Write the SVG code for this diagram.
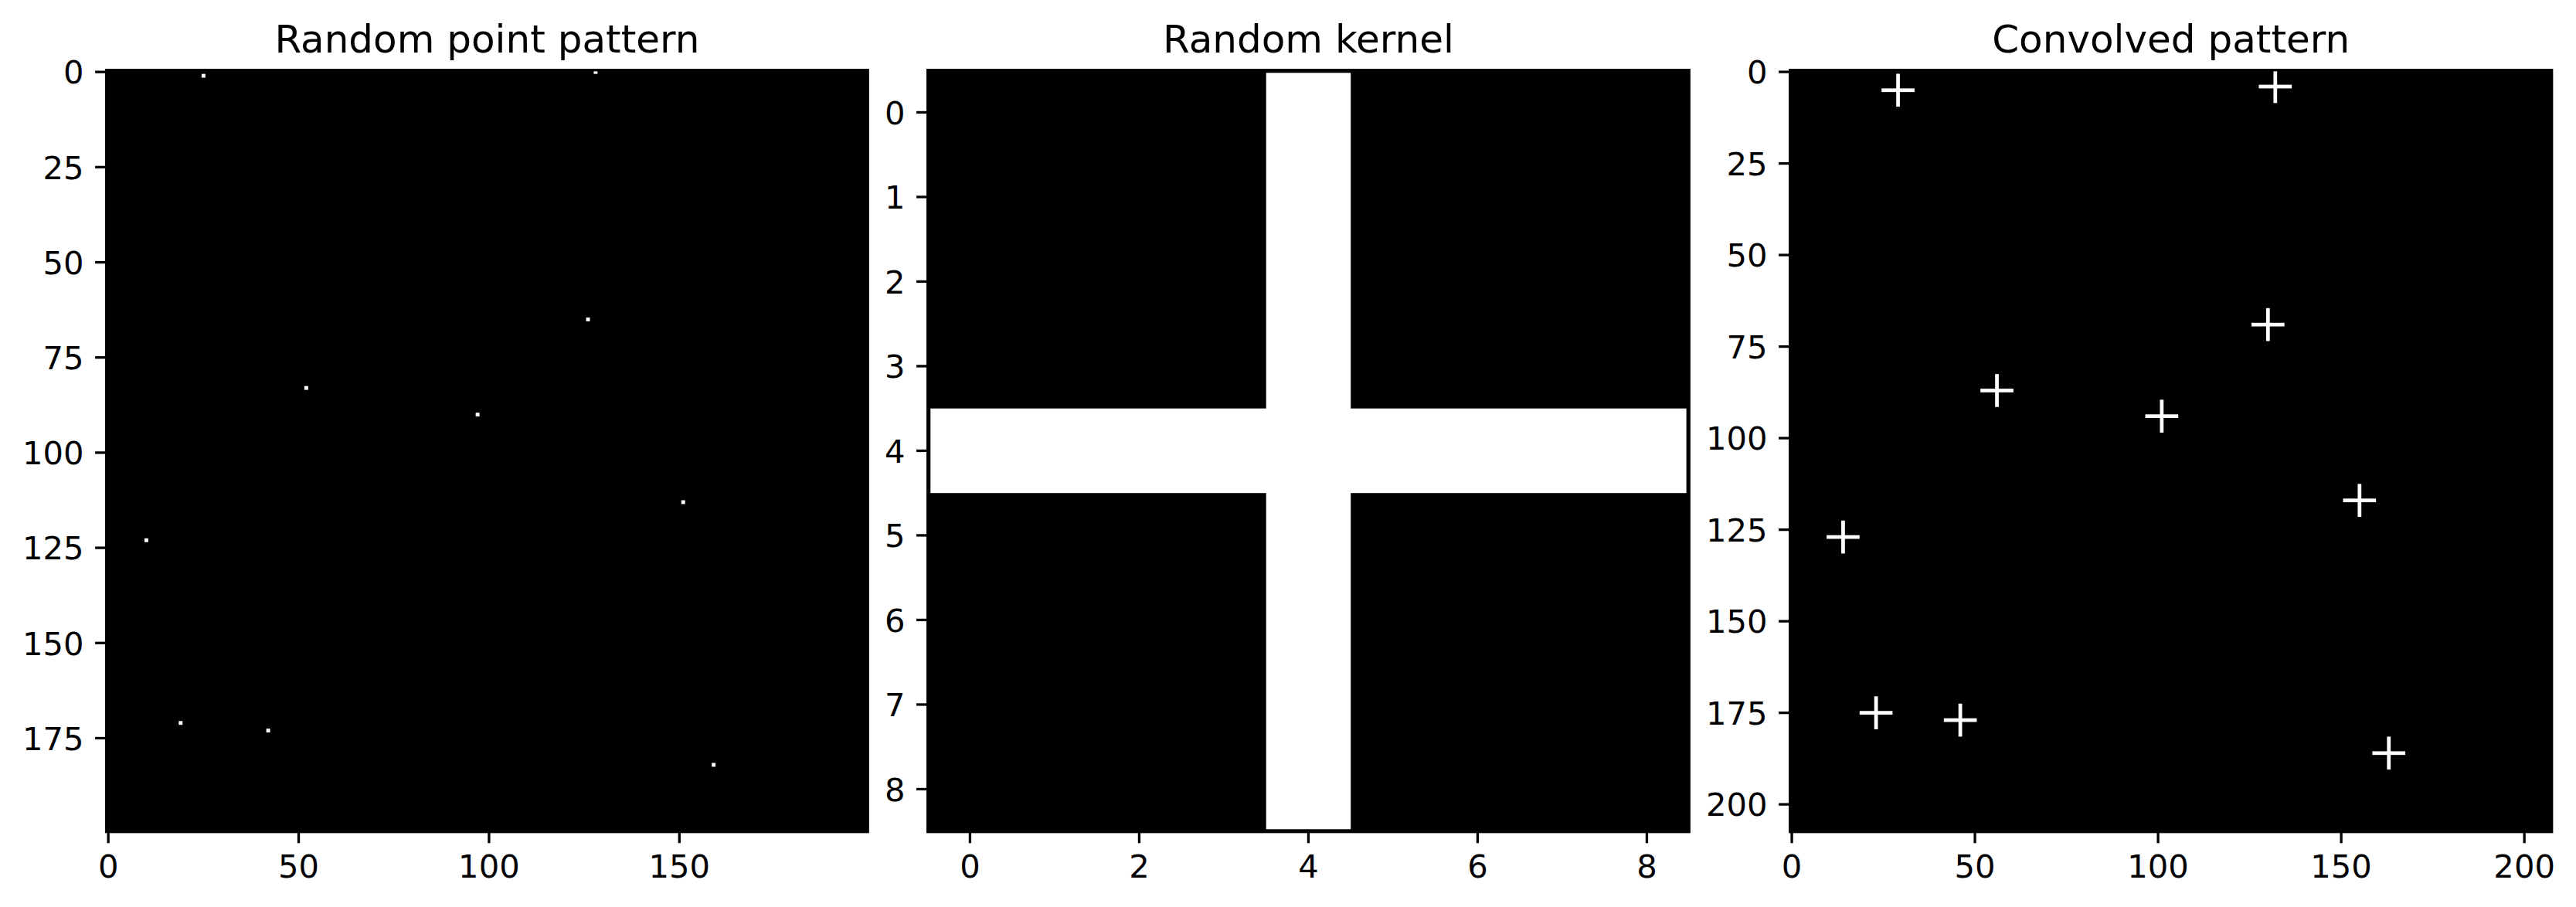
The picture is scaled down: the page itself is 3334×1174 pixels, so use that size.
<svg xmlns="http://www.w3.org/2000/svg" width="3334" height="1174" viewBox="0 0 3334 1174">
<style>
text{font-family:"DejaVu Sans","Liberation Sans",sans-serif;fill:#000}
.tl{font-size:41.7px}
.yl{text-anchor:end}
.xl{text-anchor:middle}
.title{font-size:50px;text-anchor:middle}
.tick{stroke:#000;stroke-width:3.3}
.spine{fill:none;stroke:#000;stroke-width:3.3}
.px{fill:#fff}
</style>
<defs>
<g id="cross"><rect x="-4" y="0" width="9" height="1" class="px"/><rect x="0" y="-4" width="1" height="9" class="px"/></g>
</defs>
<rect width="3334" height="1174" fill="#fff"/>

<g id="panel1">
<text class="title" x="630.4" y="68.3">Random point pattern</text>
<rect x="137.7" y="90.7" width="985.5" height="986" fill="#000"/>
<g transform="translate(137.7,90.7) scale(4.9275)">
<rect class="px" x="25" y="1" width="1" height="1"/>
<rect class="px" x="128" y="0" width="1" height="1"/>
<rect class="px" x="126" y="65" width="1" height="1"/>
<rect class="px" x="52" y="83" width="1" height="1"/>
<rect class="px" x="97" y="90" width="1" height="1"/>
<rect class="px" x="151" y="113" width="1" height="1"/>
<rect class="px" x="10" y="123" width="1" height="1"/>
<rect class="px" x="19" y="171" width="1" height="1"/>
<rect class="px" x="42" y="173" width="1" height="1"/>
<rect class="px" x="159" y="182" width="1" height="1"/>
</g>
<rect class="spine" x="137.7" y="90.7" width="985.5" height="986"/>
<g class="tick">
<line x1="123.1" y1="93.16" x2="137.7" y2="93.16"/>
<line x1="123.1" y1="216.35" x2="137.7" y2="216.35"/>
<line x1="123.1" y1="339.54" x2="137.7" y2="339.54"/>
<line x1="123.1" y1="462.73" x2="137.7" y2="462.73"/>
<line x1="123.1" y1="585.91" x2="137.7" y2="585.91"/>
<line x1="123.1" y1="709.1" x2="137.7" y2="709.1"/>
<line x1="123.1" y1="832.29" x2="137.7" y2="832.29"/>
<line x1="123.1" y1="955.48" x2="137.7" y2="955.48"/>
<line x1="140.16" y1="1076.7" x2="140.16" y2="1091.3"/>
<line x1="386.54" y1="1076.7" x2="386.54" y2="1091.3"/>
<line x1="632.91" y1="1076.7" x2="632.91" y2="1091.3"/>
<line x1="879.29" y1="1076.7" x2="879.29" y2="1091.3"/>
</g>
<g class="tl">
<text class="yl" x="108.5" y="108.4">0</text>
<text class="yl" x="108.5" y="231.5">25</text>
<text class="yl" x="108.5" y="354.7">50</text>
<text class="yl" x="108.5" y="477.9">75</text>
<text class="yl" x="108.5" y="601.1">100</text>
<text class="yl" x="108.5" y="724.3">125</text>
<text class="yl" x="108.5" y="847.5">150</text>
<text class="yl" x="108.5" y="970.7">175</text>
<text class="xl" x="140.16" y="1135.5">0</text>
<text class="xl" x="386.54" y="1135.5">50</text>
<text class="xl" x="632.91" y="1135.5">100</text>
<text class="xl" x="879.29" y="1135.5">150</text>
</g>
</g>

<g id="panel2">
<text class="title" x="1693.45" y="68.3">Random kernel</text>
<rect x="1200.7" y="90.7" width="985.5" height="986" fill="#000"/>
<rect class="px" x="1638.7" y="94.3" width="109.5" height="979"/>
<rect class="px" x="1204.3" y="528.7" width="978.3" height="109.5"/>
<rect class="spine" x="1200.7" y="90.7" width="985.5" height="986"/>
<g class="tick">
<line x1="1186.1" y1="145.45" x2="1200.7" y2="145.45"/>
<line x1="1186.1" y1="254.95" x2="1200.7" y2="254.95"/>
<line x1="1186.1" y1="364.45" x2="1200.7" y2="364.45"/>
<line x1="1186.1" y1="473.95" x2="1200.7" y2="473.95"/>
<line x1="1186.1" y1="583.45" x2="1200.7" y2="583.45"/>
<line x1="1186.1" y1="692.95" x2="1200.7" y2="692.95"/>
<line x1="1186.1" y1="802.45" x2="1200.7" y2="802.45"/>
<line x1="1186.1" y1="911.95" x2="1200.7" y2="911.95"/>
<line x1="1186.1" y1="1021.45" x2="1200.7" y2="1021.45"/>
<line x1="1255.45" y1="1076.7" x2="1255.45" y2="1091.3"/>
<line x1="1474.45" y1="1076.7" x2="1474.45" y2="1091.3"/>
<line x1="1693.45" y1="1076.7" x2="1693.45" y2="1091.3"/>
<line x1="1912.45" y1="1076.7" x2="1912.45" y2="1091.3"/>
<line x1="2131.45" y1="1076.7" x2="2131.45" y2="1091.3"/>
</g>
<g class="tl">
<text class="yl" x="1171.5" y="160.7">0</text>
<text class="yl" x="1171.5" y="270.2">1</text>
<text class="yl" x="1171.5" y="379.7">2</text>
<text class="yl" x="1171.5" y="489.2">3</text>
<text class="yl" x="1171.5" y="598.7">4</text>
<text class="yl" x="1171.5" y="708.2">5</text>
<text class="yl" x="1171.5" y="817.7">6</text>
<text class="yl" x="1171.5" y="927.2">7</text>
<text class="yl" x="1171.5" y="1036.7">8</text>
<text class="xl" x="1255.45" y="1135.5">0</text>
<text class="xl" x="1474.45" y="1135.5">2</text>
<text class="xl" x="1693.45" y="1135.5">4</text>
<text class="xl" x="1912.45" y="1135.5">6</text>
<text class="xl" x="2131.45" y="1135.5">8</text>
</g>
</g>

<g id="panel3">
<text class="title" x="2809.7" y="68.3">Convolved pattern</text>
<rect x="2316.7" y="90.7" width="986" height="986" fill="#000"/>
<g transform="translate(2316.7,90.7) scale(4.7404)">
<use href="#cross" x="29" y="5"/>
<use href="#cross" x="132" y="4"/>
<use href="#cross" x="130" y="69"/>
<use href="#cross" x="56" y="87"/>
<use href="#cross" x="101" y="94"/>
<use href="#cross" x="155" y="117"/>
<use href="#cross" x="14" y="127"/>
<use href="#cross" x="23" y="175"/>
<use href="#cross" x="46" y="177"/>
<use href="#cross" x="163" y="186"/>
</g>
<rect class="spine" x="2316.7" y="90.7" width="986" height="986"/>
<g class="tick">
<line x1="2302.1" y1="93.07" x2="2316.7" y2="93.07"/>
<line x1="2302.1" y1="211.58" x2="2316.7" y2="211.58"/>
<line x1="2302.1" y1="330.09" x2="2316.7" y2="330.09"/>
<line x1="2302.1" y1="448.6" x2="2316.7" y2="448.6"/>
<line x1="2302.1" y1="567.11" x2="2316.7" y2="567.11"/>
<line x1="2302.1" y1="685.62" x2="2316.7" y2="685.62"/>
<line x1="2302.1" y1="804.13" x2="2316.7" y2="804.13"/>
<line x1="2302.1" y1="922.64" x2="2316.7" y2="922.64"/>
<line x1="2302.1" y1="1041.15" x2="2316.7" y2="1041.15"/>
<line x1="2319.07" y1="1076.7" x2="2319.07" y2="1091.3"/>
<line x1="2556.09" y1="1076.7" x2="2556.09" y2="1091.3"/>
<line x1="2793.11" y1="1076.7" x2="2793.11" y2="1091.3"/>
<line x1="3030.13" y1="1076.7" x2="3030.13" y2="1091.3"/>
<line x1="3267.15" y1="1076.7" x2="3267.15" y2="1091.3"/>
</g>
<g class="tl">
<text class="yl" x="2287.5" y="108.3">0</text>
<text class="yl" x="2287.5" y="226.8">25</text>
<text class="yl" x="2287.5" y="345.3">50</text>
<text class="yl" x="2287.5" y="463.8">75</text>
<text class="yl" x="2287.5" y="582.3">100</text>
<text class="yl" x="2287.5" y="700.8">125</text>
<text class="yl" x="2287.5" y="819.3">150</text>
<text class="yl" x="2287.5" y="937.8">175</text>
<text class="yl" x="2287.5" y="1056.4">200</text>
<text class="xl" x="2319.07" y="1135.5">0</text>
<text class="xl" x="2556.09" y="1135.5">50</text>
<text class="xl" x="2793.11" y="1135.5">100</text>
<text class="xl" x="3030.13" y="1135.5">150</text>
<text class="xl" x="3267.15" y="1135.5">200</text>
</g>
</g>
</svg>
